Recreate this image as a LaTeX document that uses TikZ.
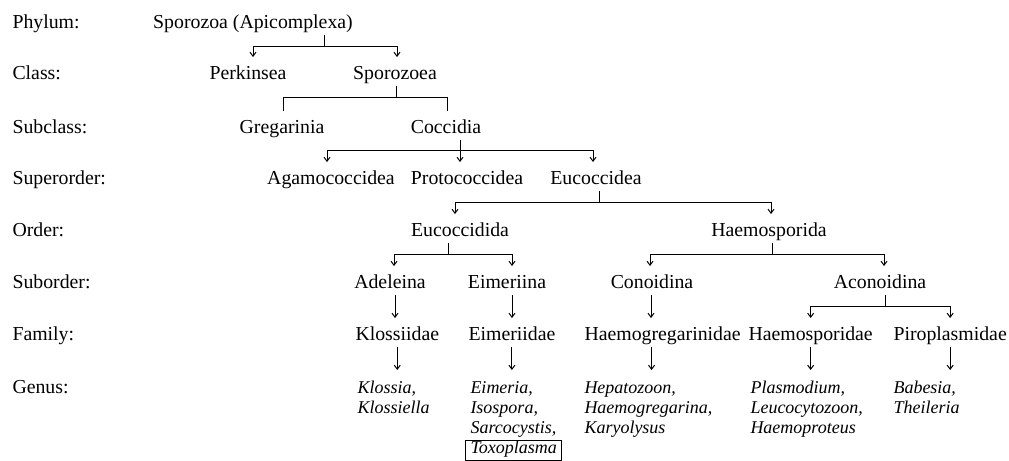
\documentclass[tikz,border=0pt]{standalone}
\usepackage{fontspec}
\setmainfont{Liberation Serif}
\usetikzlibrary{arrows.meta}

\begin{document}
\begin{tikzpicture}[x=.5pt,y=-.5pt,line width=.5pt,
  font=\fontsize{9.9}{10}\selectfont,
  every node/.style={inner sep=0pt},
  rank/.style={anchor=base west},
  taxon/.style={anchor=base,text height=11pt,text depth=3pt},
  family/.style={anchor=base west,text height=11pt,text depth=3pt},
  genus/.style={anchor=north west,align=left,inner ysep=5.4pt,
    font=\fontsize{9}{10}\selectfont\itshape},
  boxed/.style={draw,anchor=base west,inner xsep=2.5pt,text height=6.5pt,
    text depth=3.5pt,font=\fontsize{9}{10}\selectfont\itshape},
  arr/.style={-{Straight Barb[length=2pt,width=3pt]}}]
\useasboundingbox (0,0) rectangle (1009,461);
% Rank names down the left margin.
\foreach \r/\y [count=\i] in {Phylum/28.5,Class/79.5,Subclass/133,
  Superorder/184.5,Order/236.5,Suborder/288.5,Family/340.5,Genus/393}{
  \node[rank] (r\i) at (12,\y) {\r:};
}
% Phylum down to suborder.
\node[taxon] (spz) at (253,28.5) {Sporozoa (Apicomplexa)};
\node[taxon] (perk) at (248,79.5) {Perkinsea};
\node[taxon] (spzea) at (395,79.5) {Sporozoea};
\node[taxon] (greg) at (282,133) {Gregarinia};
\node[taxon] (cocc) at (446,133) {Coccidia};
\node[taxon] (agam) at (331,184.5) {Agamococcidea};
\node[taxon] (proto) at (467,184.5) {Protococcidea};
\node[taxon] (euc) at (596,184.5) {Eucoccidea};
\node[taxon] (eucd) at (460,236.5) {Eucoccidida};
\node[taxon] (haem) at (769,236.5) {Haemosporida};
\node[taxon] (adel) at (390,288.5) {Adeleina};
\node[taxon] (eimi) at (507,288.5) {Eimeriina};
\node[taxon] (cono) at (652,288.5) {Conoidina};
\node[taxon] (acono) at (880,288.5) {Aconoidina};
% Families, and the genera under them.
\node[family] (kloss) at (355,340.5) {Klossiidae};
\node[family] (eimd) at (468,340.5) {Eimeriidae};
\node[family] (hgreg) at (584,340.5) {Haemogregarinidae};
\node[family] (hspd) at (748,340.5) {Haemosporidae};
\node[family] (piro) at (893,340.5) {Piroplasmidae};
\node[genus] (kgen) at (357,370) {Klossia,\\Klossiella};
\node[genus] (egen) at (470,370) {Eimeria,\\Isospora,\\Sarcocystis,};
\node[genus] (hgen) at (584,370) {Hepatozoon,\\Haemogregarina,\\Karyolysus};
\node[genus] (pgen) at (750,370) {Plasmodium,\\Leucocytozoon,\\Haemoproteus};
\node[genus] (bgen) at (893,370) {Babesia,\\Theileria};
\node[boxed] (toxo) at (465,453) {Toxoplasma};
% Branches.
\draw ([xshift=35.5pt]spz.south) -- ++(0,11) coordinate (j1);
\draw[arr] (j1) -| ([xshift=2.5pt]perk.north);
\draw[arr] (j1) -| ([xshift=1pt]spzea.north);
\draw ([xshift=.5pt]spzea.south) -- ++(0,11) coordinate (j2);
\draw (j2) -| ([xshift=.5pt]greg.north);
\draw (j2) -| ([xshift=.5pt]cocc.north);
\draw ([xshift=7pt]cocc.south) -- ++(0,11) coordinate (j3);
\foreach \n/\dx in {agam/-2pt,proto/-3.5pt,euc/-1.5pt}
  \draw[arr] (j3) -| ([xshift=\dx]\n.north);
\draw ([xshift=1.5pt]euc.south) -- ++(0,11) coordinate (j4);
\draw[arr] (j4) -| ([xshift=-2.5pt]eucd.north);
\draw[arr] (j4) -| ([xshift=1pt]haem.north);
\draw ([xshift=-6pt]eucd.south) -- ++(0,11) coordinate (j5);
\draw[arr] (j5) -| ([xshift=2pt]adel.north);
\draw[arr] (j5) -| ([xshift=2.5pt]eimi.north);
\draw ([xshift=1.5pt]haem.south) -- ++(0,11) coordinate (j6);
\draw[arr] (j6) -| ([xshift=-1pt]cono.north);
\draw[arr] (j6) -| ([xshift=2pt]acono.north);
% Suborders to families.
\draw[arr] ([xshift=2.5pt]adel.south) -- ([xshift=2.5pt]adel.south |- kloss.north);
\draw[arr] ([xshift=2.5pt]eimi.south) -- ([xshift=2.5pt]eimi.south |- eimd.north);
\draw[arr] ([xshift=-.5pt]cono.south) -- ([xshift=-.5pt]cono.south |- hgreg.north);
\draw ([xshift=2.5pt]acono.south) -- ++(0,11) coordinate (j7);
\draw[arr] (j7) -| (hspd.north);
\draw[arr] (j7) -| (piro.north);
% Families to genera.
\foreach \f/\g in {kloss/kgen,eimd/egen,hspd/pgen,piro/bgen}
  \draw[arr] (\f.south) -- (\f.south |- \g.north);
\draw[arr] ([xshift=-5.5pt]hgreg.south) -- ([xshift=-5.5pt]hgreg.south |- hgen.north);
\end{tikzpicture}
\end{document}
